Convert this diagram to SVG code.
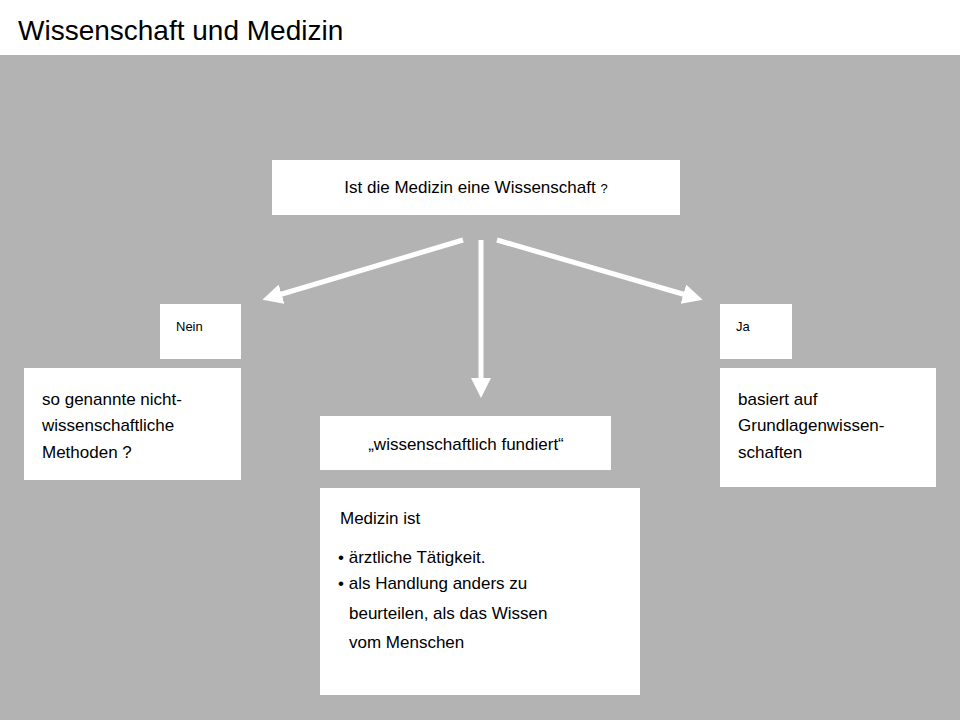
<svg xmlns="http://www.w3.org/2000/svg" width="960" height="720" viewBox="0 0 960 720">
<style>
.b{fill:#fff}
text{font-family:"Liberation Sans Narrow","Liberation Sans",Arial,sans-serif;fill:#000}
.t{font-size:17px}
.s{font-size:13px}
.c{stroke:#fff;stroke-width:5;fill:none}
</style>
<defs><marker id="a" viewBox="0 0 10 10" refX="5" refY="5" markerWidth="4" markerHeight="4" orient="auto" markerUnits="strokeWidth"><path d="M0,0L10,5L0,10z" fill="#fff"/></marker></defs>
<rect width="960" height="720" fill="#fff"/>
<text x="18" y="40" font-size="28">Wissenschaft und Medizin</text>
<rect y="55" width="960" height="665" fill="#b3b3b3"/>
<g id="q"><rect class="b" x="272" y="160" width="408" height="55"/><text class="t" x="476" y="193" text-anchor="middle">Ist die Medizin eine Wissenschaft <tspan font-size="13">?</tspan></text></g>
<g id="nein"><rect class="b" x="160" y="304" width="81" height="55"/><text class="s" x="176" y="331">Nein</text></g>
<g id="ja"><rect class="b" x="720" y="304" width="72" height="55"/><text class="s" x="736" y="331">Ja</text></g>
<g id="left"><rect class="b" x="24" y="368" width="217" height="112"/><text class="t" x="42" y="405">so genannte nicht-</text><text class="t" x="42" y="431">wissenschaftliche</text><text class="t" x="42" y="458">Methoden ?</text></g>
<g id="right"><rect class="b" x="720" y="368" width="216" height="119"/><text class="t" x="738" y="405">basiert auf</text><text class="t" x="738" y="431">Grundlagenwissen-</text><text class="t" x="738" y="458">schaften</text></g>
<g id="mid"><rect class="b" x="320" y="416" width="291" height="54"/><text class="t" x="466" y="450" text-anchor="middle">„wissenschaftlich fundiert“</text></g>
<g id="bottom"><rect class="b" x="320" y="488" width="320" height="207"/><text class="t" x="340" y="524">Medizin ist</text><text class="t" x="338" y="563">• ärztliche Tätigkeit.</text><text class="t" x="338" y="589">• als Handlung anders zu</text><text class="t" x="349" y="619">beurteilen, als das Wissen</text><text class="t" x="349" y="648">vom Menschen</text></g>
<g id="connectors">
<path class="c" d="M463,240L272,297" marker-end="url(#a)"/>
<path class="c" d="M481,240L481,388" marker-end="url(#a)"/>
<path class="c" d="M497,240L693,297" marker-end="url(#a)"/>
</g>
</svg>
